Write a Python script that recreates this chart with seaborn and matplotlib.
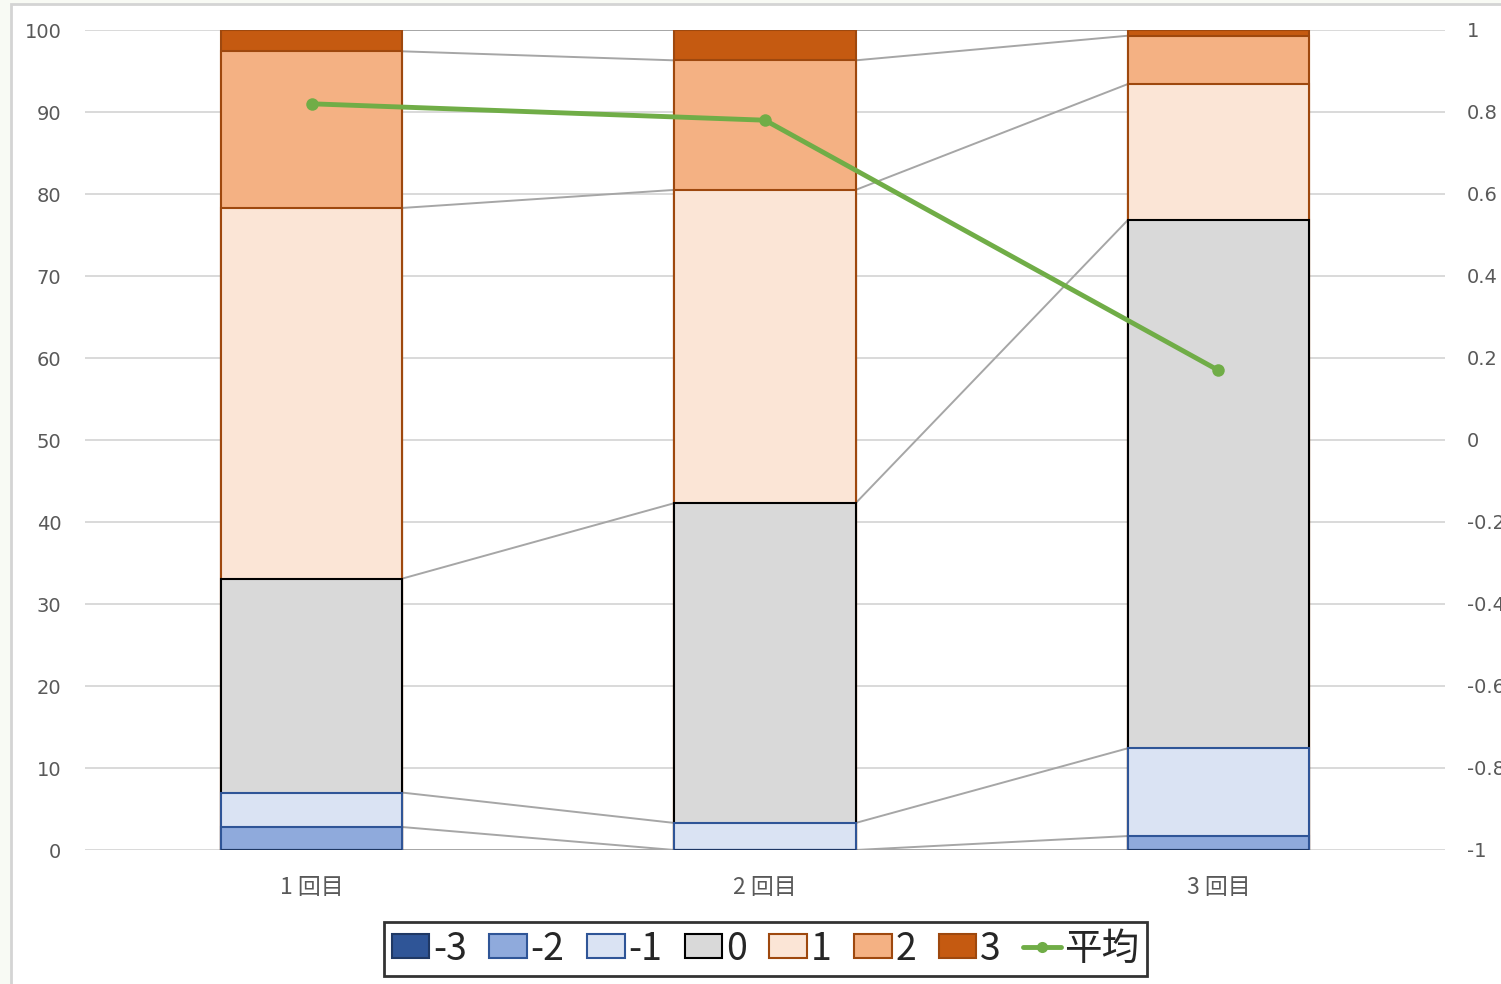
import matplotlib
matplotlib.use("Agg")
import matplotlib.pyplot as plt
from matplotlib.patches import Patch, Rectangle
from matplotlib.lines import Line2D
from matplotlib.ticker import FuncFormatter
import numpy as np
import pandas as pd
import seaborn as sns

# ---- data -------------------------------------------------------------
rounds = ["1 回目", "2 回目", "3 回目"]
levels = ["-3", "-2", "-1", "0", "1", "2", "3"]

# share of answers (%) per score level
share_m3 = [0.0, 0.0, 0.0]
share_m2 = [2.8, 0.0, 1.7]
share_m1 = [4.2, 3.3, 10.7]
share_0 = [26.1, 39.0, 64.4]
share_p1 = [45.2, 38.2, 16.6]
share_p2 = [19.1, 15.8, 5.9]
share_p3 = [2.6, 3.7, 0.7]

# average score per round (right axis)
mean_score = [0.82, 0.78, 0.17]

left_ticks = [0, 10, 20, 30, 40, 50, 60, 70, 80, 90, 100]
right_ticks = [-1, -0.8, -0.6, -0.4, -0.2, 0, 0.2, 0.4, 0.6, 0.8, 1]

# ---- styling ------------------------------------------------------------
fills = ["#2F5597", "#8FAADC", "#DAE3F3", "#D9D9D9", "#FBE5D6", "#F4B183", "#C55A11"]
edges = ["#1F3864", "#2F5597", "#2F5597", "#000000", "#9E480E", "#9E480E", "#9E480E"]
green = "#70AD47"
tick_grey = "#595959"
BAR_W = 0.4

shares = [share_m3, share_m2, share_m1, share_0, share_p1, share_p2, share_p3]
cum = np.cumsum(np.array(shares), axis=0)  # top of each level

sns.set_theme(style="white")
plt.rcParams["font.family"] = ["DejaVu Sans"]

fig = plt.figure(figsize=(15.01, 9.84), dpi=100, facecolor="#F8FAF4")
# chart area frame, kept behind the axes
fig.patches.append(Rectangle((11 / 1501, -0.02), 1.05, 1 - 4 / 984 + 0.02,
                             transform=fig.transFigure, facecolor="white",
                             edgecolor="#D4D4D4", linewidth=2, zorder=-10))

ax = fig.add_axes([85 / 1501, 1 - 850 / 984, 1360 / 1501, 820 / 984])
ax.set_facecolor("none")
ax.set_zorder(1)

# stacked bars: draw cumulative totals from the top level down
for k in range(len(levels) - 1, -1, -1):
    df = pd.DataFrame({"round": rounds, "top": cum[k]})
    sns.barplot(data=df, x="round", y="top", order=rounds, ax=ax,
                color=fills[k], edgecolor=edges[k], linewidth=1.5,
                width=BAR_W, saturation=1, errorbar=None, zorder=3)

# series lines joining the segment boundaries of neighbouring bars
half = BAR_W / 2
for k in range(len(levels)):
    for i in range(len(rounds) - 1):
        ax.plot([i + half, i + 1 - half], [cum[k][i], cum[k][i + 1]],
                color="#A6A6A6", linewidth=1.4, zorder=2)

ax.set_xlim(-0.5, len(rounds) - 0.5)
ax.set_ylim(0, 100)
ax.set_yticks(left_ticks)
ax.yaxis.grid(True, color="#D9D9D9", linewidth=1.4)
ax.set_axisbelow(True)
for s in ax.spines.values():
    s.set_visible(False)
ax.set_xlabel("")
ax.set_ylabel("")
ax.tick_params(axis="y", length=0, pad=17, labelsize=14, labelcolor=tick_grey)
ax.tick_params(axis="x", length=0, pad=19)
for lab in ax.get_xticklabels():
    lab.set_fontfamily(["Noto Sans CJK JP", "DejaVu Sans"])
    lab.set_fontsize(16.5)
    lab.set_color(tick_grey)

# average score on the secondary axis
ax2 = ax.twinx()
sns.lineplot(x=[0, 1, 2], y=mean_score, ax=ax2, color=green, linewidth=3.5,
             marker="o", markersize=9, markeredgewidth=0, zorder=5)
ax2.set_ylim(-1, 1)
ax2.set_yticks(right_ticks)
ax2.yaxis.set_major_formatter(FuncFormatter(lambda v, p: f"{round(v, 1):g}"))
ax2.tick_params(axis="y", length=0, pad=16, labelsize=14, labelcolor=tick_grey)
ax2.grid(False)
for s in ax2.spines.values():
    s.set_visible(False)
ax2.set_xlim(-0.5, len(rounds) - 0.5)

# legend
handles = [Patch(facecolor=fills[k], edgecolor=edges[k], linewidth=1.5, label=levels[k])
           for k in range(len(levels))]
handles.append(Line2D([], [], color=green, linewidth=3.5, marker="o",
                      markersize=8, markeredgewidth=0, label="平均"))
leg = fig.legend(handles=handles, loc="center", ncol=8,
                 bbox_to_anchor=(765.5 / 1501, 1 - 949 / 984),
                 prop={"family": ["Noto Sans CJK JP", "DejaVu Sans"], "size": 27},
                 handlelength=1.0, handleheight=0.6, handletextpad=0.1,
                 columnspacing=0.6, borderpad=0.2, borderaxespad=0,
                 fancybox=False, frameon=True)
leg.get_frame().set_edgecolor("black")
leg.get_frame().set_linewidth(2)

fig.savefig("out.png", dpi=100, facecolor=fig.get_facecolor())
